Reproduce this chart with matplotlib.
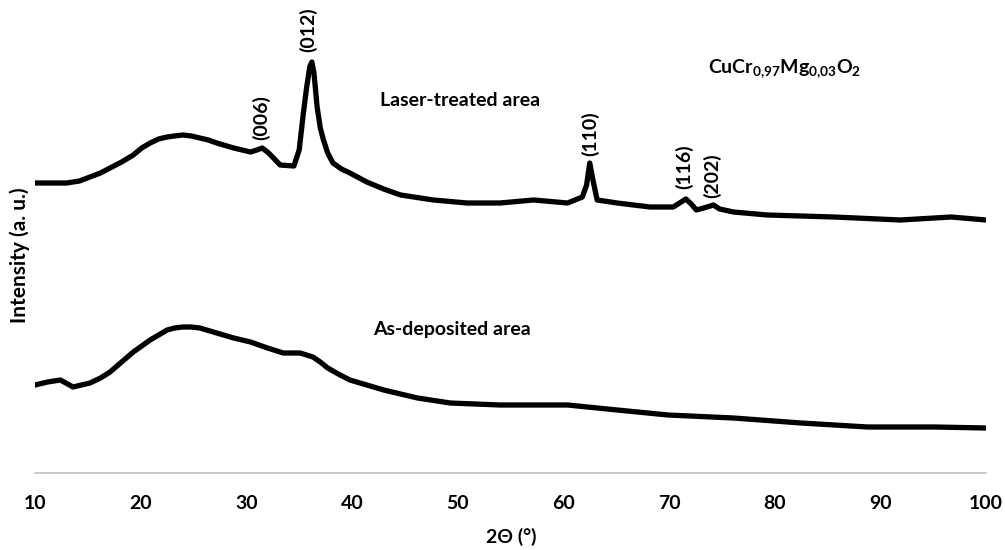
import numpy as np
import matplotlib
matplotlib.use("Agg")
import matplotlib.pyplot as plt

plt.rcParams['font.family'] = ['Lato', 'DejaVu Sans']
plt.rcParams['font.weight'] = 'bold'
plt.rcParams['mathtext.fontset'] = 'custom'
plt.rcParams['mathtext.rm'] = 'Lato:bold'
plt.rcParams['mathtext.default'] = 'rm'

# laser-treated area pattern (2theta in degrees, intensity in a.u.)
laser_2theta = [10, 12, 13, 14.2, 15.2, 16.2, 17.1, 18.2, 19.3, 20.1, 20.9, 21.7,
                22.5, 23.2, 24, 24.8, 25.6, 26.4, 27.2, 28.8, 29.6, 30.4, 31.0,
                31.5, 32.0, 32.3, 33.2, 34.5, 35.0, 35.4, 35.7, 36.0, 36.2, 36.4,
                36.7, 37.0, 37.3, 37.7, 38.2, 39.0, 39.8, 41.4, 43.0, 44.6, 47.7,
                50.9, 54, 57.2, 60.4, 61.8, 62.2, 62.5, 62.8, 63.2, 65.1, 68.2,
                70.4, 71.0, 71.6, 72.1, 72.6, 73.6, 74.2, 74.8, 76.1, 79.3, 85.6,
                91.9, 96.7, 100]
laser_int = [290, 290, 290, 292, 296, 300, 305, 311, 318, 325, 330, 334,
             336, 337, 338, 337, 335, 333, 330, 325, 323, 321, 323,
             325, 321, 318, 308, 307, 323, 360, 385, 406, 411, 400,
             366, 345, 333, 320, 310, 304, 300, 291, 284, 278, 273,
             270, 270, 273, 270, 276, 288, 310, 293, 273, 270, 266,
             266, 270, 274, 269, 263, 266, 268, 264, 261, 258, 256,
             253, 256, 253]

# as-deposited area pattern
asdep_2theta = [10, 11.2, 12.4, 13.6, 15.2, 16.2, 17.1, 18.2, 19.3, 20.1, 20.9,
                21.7, 22.5, 23.2, 24, 24.8, 25.6, 27.2, 28.8, 30.4, 32, 33.5,
                35.1, 36.3, 37.0, 37.7, 38.7, 39.8, 41.4, 43, 46.2, 49.3,
                54, 60.4, 65.1, 69.9, 76.1, 82.5, 88.8, 95.1, 100]
asdep_int = [88, 91, 93, 86, 90, 95, 101, 111, 121, 127, 133,
             138, 143, 145, 146, 146, 145, 140, 135, 131, 125, 120,
             120, 116, 111, 105, 99, 93, 88, 83, 75, 70,
             68, 68, 63, 58, 55, 50, 46, 46, 45]

# peak labels: (hkl, 2theta, height of label centre)
peak_labels = ['(006)', '(012)', '(110)', '(116)', '(202)']
peak_x = [31.4, 35.9, 62.5, 71.4, 74.1]
peak_y = [355, 443, 339, 306, 297]

fig = plt.figure(figsize=(10.05, 5.5), dpi=100)
ax = fig.add_axes([35 / 1005, 77 / 550, 951 / 1005, 473 / 550])

ax.plot(laser_2theta, laser_int, color='black', lw=3.8, solid_joinstyle='round')
ax.plot(asdep_2theta, asdep_int, color='black', lw=3.8, solid_joinstyle='round')

for lab, px, py in zip(peak_labels, peak_x, peak_y):
    ax.text(px, py, lab, rotation=90, ha='center', va='center', fontsize=14)

ax.text(42.65, 373, 'Laser-treated area', ha='left', va='center', fontsize=14)
ax.text(42.0, 143, 'As-deposited area', ha='left', va='center', fontsize=14)
ax.text(73.7, 404, r'CuCr$_{0{,}97}$Mg$_{0{,}03}$O$_2$', ha='left', va='center', fontsize=14)

ax.set_xlim(10, 100)
ax.set_ylim(0, 473)
ax.set_xticks(np.arange(10, 101, 10))
ax.set_yticks([])
ax.tick_params(axis='x', length=0, pad=16, labelsize=14)
for side in ['top', 'right', 'left']:
    ax.spines[side].set_visible(False)
ax.spines['bottom'].set_color('#c0c0c0')
ax.spines['bottom'].set_linewidth(1.2)

fig.text(511 / 1005, 13 / 550, '2Θ (°)', ha='center', va='center', fontsize=14)
fig.text(19.5 / 1005, 295 / 550, 'Intensity (a. u.)', ha='center', va='center',
         rotation=90, fontsize=15)

fig.savefig('out.png', dpi=100)
